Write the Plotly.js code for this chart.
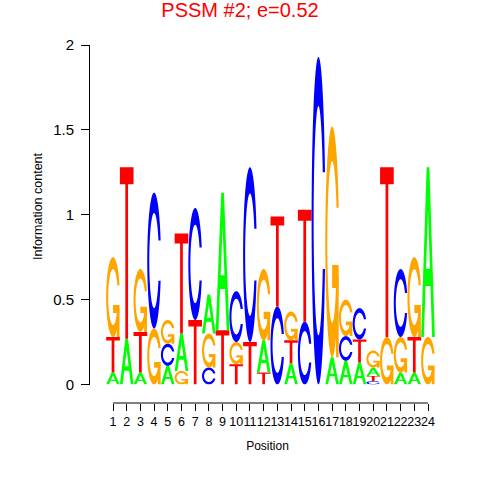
<!DOCTYPE html>
<html><head><meta charset="utf-8">
<script src="https://cdn.plot.ly/plotly-3.0.1.min.js"></script>
<style>html,body{margin:0;padding:0;background:#fff}#chart{width:480px;height:480px}</style>
</head><body><div id="chart"></div>
<script>
// ---- data (information content per letter, per position) ----
const positions = [1,2,3,4,5,6,7,8,9,10,11,12,13,14,15,16,17,18,19,20,21,22,23,24];
const tickLabels = positions.map(String);
const heightA = [0.07,0.27,0.07,0,0.11,0.22,0,0.23,0.81,0,0,0.19,0,0.125,0,0,0.16,0.14,0.13,0.05,0,0.07,0.07,1.00];
const heightC = [0,0,0,0.80,0.13,0,0.66,0.10,0,0.30,1.03,0,0.46,0,0.37,1.93,0,0.145,0.185,0.02,0,0.40,0,0];
const heightG = [0.47,0,0.37,0.33,0.14,0.08,0,0.20,0,0.13,0,0.42,0,0.17,0,0,1.36,0.215,0,0.10,0.28,0.21,0.47,0.28];
const heightT = [0.21,1.01,0.24,0,0,0.59,0.38,0,0.32,0.12,0.25,0.07,0.53,0.135,0.66,0,0,0,0.135,0.03,1.00,0,0.21,0];
const titleText = 'PSSM #2; e=0.52';

const letterColors = {A:'#00FF00', C:'#0000FF', G:'#FFA500', T:'#FF0000'};
const FONT = 'Liberation Sans, Arial, Helvetica, sans-serif';

// ---- glyph templates in the unit square (seqLogo style) ----
function seq(a,b,n){const r=[];for(let i=0;i<n;i++)r.push(a+(b-a)*i/(n-1));return r;}
function rev(a){return a.slice().reverse();}
function ringC(){
  const n=60, PI=Math.PI;
  const a1=seq(0.3+PI/2,PI,n), a2=seq(PI,1.5*PI,n);
  const xl1=a1.map(a=>0.5+0.5*Math.sin(a)), yl1=a1.map(a=>0.5+0.5*Math.cos(a));
  const xl2=a2.map(a=>0.5+0.5*Math.sin(a)), yl2=a2.map(a=>0.5+0.5*Math.cos(a));
  const xl=xl1.concat(xl2), yl=yl1.concat(yl2);
  const xo=xl.concat(rev(xl)), yo=yl.concat(rev(yl).map(v=>1-v));
  const maxY=Math.max(...yl1);
  let xi1=a1.map(a=>0.5+0.35*Math.sin(a)), yi1=a1.map(a=>0.5+0.35*Math.cos(a));
  const keep=yi1.map(v=>v<=maxY);
  xi1=xi1.filter((v,i)=>keep[i]); yi1=yi1.filter((v,i)=>keep[i]);
  yi1[0]=maxY;
  const xi2=a2.map(a=>0.5+0.35*Math.sin(a)), yi2=a2.map(a=>0.5+0.35*Math.cos(a));
  const xi=xi1.concat(xi2), yi=yi1.concat(yi2);
  const x1=xi.concat(rev(xi)), y1=yi.concat(rev(yi).map(v=>1-v));
  const x=xo.concat(rev(x1)), y=yo.concat(rev(y1));
  return {pts:x.map((v,i)=>[v,y[i]]), r1:Math.max(...xl1)};
}
const RC = ringC();
const glyphs = {
  A: [[
    [[0,0],[0.4,1],[0.6,1],[1,0],[0.8,0],[0.68,0.3],[0.32,0.3],[0.2,0]],
    [[0.36,0.4],[0.64,0.4],[0.5,0.75]]
  ]],
  T: [[
    [[0,1],[1,1],[1,0.9],[0.6,0.9],[0.6,0],[0.4,0],[0.4,0.9],[0,0.9]]
  ]],
  C: [[RC.pts]],
  G: [[RC.pts], [[[RC.r1,0.4],[0.5,0.4],[0.5,0.3],[RC.r1-0.2,0.3],[RC.r1-0.2,0],[RC.r1,0],[RC.r1,0.4]]]]
};

function pathFor(subpaths, x0, y0, w, h){
  return subpaths.map(sp => 'M' + sp.map(p => (x0+p[0]*w).toFixed(4)+','+(y0+p[1]*h).toFixed(4)).join('L') + 'Z').join('');
}

const shapes = [];
const heights = {A:heightA, C:heightC, G:heightG, T:heightT};
positions.forEach((pos,i) => {
  const col = ['A','C','G','T'].map(L => ({L, h:heights[L][i]})).filter(d => d.h > 0);
  col.sort((a,b) => a.h - b.h);
  let base = 0;
  col.forEach(d => {
    glyphs[d.L].forEach(part => {
      shapes.push({type:'path', xref:'x', yref:'y', path:pathFor(part, pos-0.5, base, 1, d.h),
        fillcolor:letterColors[d.L], line:{width:0}, layer:'above'});
    });
    base += d.h;
  });
});
// x axis baseline spanning first..last position
shapes.push({type:'line', xref:'x', yref:'paper', x0:positions[0], x1:positions[positions.length-1], y0:0, y1:0,
  line:{color:'#000', width:1}});

const L = 90, R = 445, T = 45, B = 77;
const pxPerUnit = (428-113)/23;
const x0 = 1 - (113-L)/pxPerUnit, x1 = 24 + (R-428)/pxPerUnit;
const plotH = 480 - T - B;
const yDomLow = (403-384.5)/plotH;

const layout = {
  width:480, height:480,
  margin:{l:L, r:480-R, t:T, b:B, pad:0},
  paper_bgcolor:'#fff', plot_bgcolor:'#fff',
  showlegend:false,
  font:{family:FONT, color:'#000'},
  title:{text:titleText, font:{family:FONT, size:20, color:'#FF0000'}, x:0.5, xref:'container', xanchor:'center',
    y:1-10/480, yref:'container', yanchor:'middle'},
  xaxis:{range:[x0,x1], anchor:'free', position:0, showline:false, showgrid:false, zeroline:false,
    tickmode:'array', tickvals:positions, ticktext:tickLabels, ticks:'outside', ticklen:7, tickwidth:1, tickcolor:'#000',
    tickangle:0, tickfont:{family:FONT, size:12.5, color:'#000'},
    title:{text:'Position', font:{family:FONT, size:12, color:'#000'}, standoff:13}},
  yaxis:{range:[0,2], domain:[yDomLow,1], showline:true, linecolor:'#000', linewidth:1, showgrid:false, zeroline:false,
    tickmode:'array', tickvals:[0,0.5,1,1.5,2], ticktext:['0','0.5','1','1.5','2'], ticks:'outside', ticklen:8,
    tickwidth:1, tickcolor:'#000', tickfont:{family:FONT, size:15, color:'#000'}, ticklabelstandoff:4},
  shapes:shapes,
  annotations:[{text:'Information content', textangle:-90, xref:'paper', yref:'paper',
    x:(38-L)/(R-L), y:(403-206)/plotH, xanchor:'center', yanchor:'middle', showarrow:false,
    font:{family:FONT, size:12.5, color:'#000'}}]
};

const traces = [{type:'scatter', mode:'markers', x:positions, y:positions.map(()=>0),
  marker:{opacity:0, size:1}, hoverinfo:'skip', showlegend:false}];

Plotly.newPlot('chart', traces, layout, {staticPlot:true, displayModeBar:false});
</script></body></html>
